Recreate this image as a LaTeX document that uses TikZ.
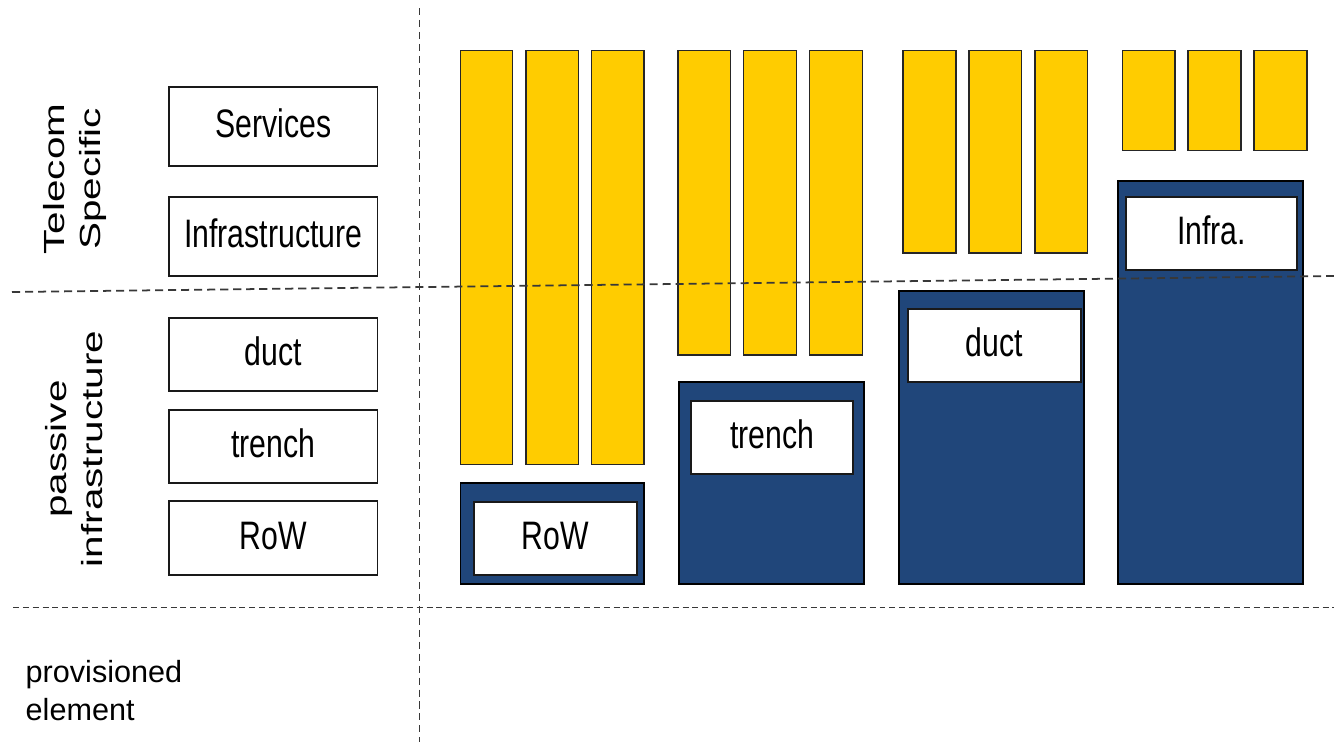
\documentclass[tikz,border=0pt]{standalone}
\usepackage{fontspec}
\usepackage{graphicx}
\setmainfont{Liberation Sans}
\usetikzlibrary{fit}
\definecolor{barfill}{HTML}{FFCC00}
\definecolor{basefill}{HTML}{20467A}
\definecolor{guidegray}{HTML}{383838}
\newcommand\narrowtxt[1]{\raisebox{-6.6pt}{\scalebox{0.76}[1]{#1}}}

\begin{document}
\begin{tikzpicture}[x=0.01cm,y=-0.01cm,
  yellowbar/.style={draw=black!85, line width=0.5pt, fill=barfill, inner sep=0pt},
  bluebase/.style={draw=black, line width=0.5pt, fill=basefill, inner sep=0pt},
  labelbox/.style={draw=black!90, line width=0.5pt, fill=white, inner sep=0pt,
    font=\fontsize{11.3}{13}\selectfont, text height=8.1pt, text depth=1.1pt},
  guideline/.style={draw=guidegray, line width=0.5pt},
  sidelabel/.style={rotate=90, inner sep=0pt, font=\fontsize{11.5}{14}\selectfont}
]
\path[use as bounding box, fill=white] (0,0) rectangle (1334,742);

% layer legend on the left
\node[labelbox, fit={(169,87)(377.5,166)}] (lservices) {\narrowtxt{Services}};
\node[labelbox, fit={(169,196.7)(377.5,276)}] (linfra) {\narrowtxt{Infrastructure}};
\node[labelbox, fit={(169,318)(377.5,391)}] (lduct) {\narrowtxt{duct}};
\node[labelbox, fit={(169,409.7)(377.5,483)}] (ltrench) {\narrowtxt{trench}};
\node[labelbox, fit={(169,501.3)(377.5,574.7)}] (lrow) {\narrowtxt{RoW}};

\node[sidelabel] (telecom) at (75.6,179)
  {\scalebox{1}[0.72]{\begin{tabular}{@{}c@{}}Telecom\\Specific\end{tabular}}};
\node[sidelabel] (passive) at (77.6,449)
  {\scalebox{1}[0.72]{\begin{tabular}{@{}c@{}}passive\\infrastructure\end{tabular}}};
\node[anchor=base west, inner sep=0pt, font=\fontsize{8.7}{10.8}\selectfont] (prov) at (25,682.7)
  {\begin{tabular}[t]{@{}l@{}}provisioned\\element\end{tabular}};

% blue foundations with their white tags
\node[bluebase, fit={(460.5,483)(644.3,584)}] (b1) {};
\node[bluebase, fit={(679.3,382.3)(864,584)}] (b2) {};
\node[bluebase, fit={(899,290.7)(1083.7,584)}] (b3) {};
\node[bluebase, fit={(1118.3,180.7)(1302.7,584)}] (b4) {};

\node[labelbox, fit={(474,501.7)(636.7,574.7)}] (w1) {\narrowtxt{RoW}};
\node[labelbox, fit={(690.7,400.7)(853.3,474)}] (w2) {\narrowtxt{trench}};
\node[labelbox, fit={(908,309)(1080.7,382)}] (w3) {\narrowtxt{duct}};
\node[labelbox, fit={(1126.3,196.7)(1297,269.7)}] (w4) {\narrowtxt{Infra.}};

% yellow columns standing on each foundation
\node[yellowbar, fit={(460.5,50.5)(512.5,464.5)}] (y11) {};
\node[yellowbar, fit={(526,50.5)(578.5,464.5)}] (y12) {};
\node[yellowbar, fit={(591.5,50.5)(644,464.5)}] (y13) {};

\node[yellowbar, fit={(678,50.5)(730.5,355)}] (y21) {};
\node[yellowbar, fit={(743.5,50.5)(796.5,355)}] (y22) {};
\node[yellowbar, fit={(809.5,50.5)(862.5,355)}] (y23) {};

\node[yellowbar, fit={(903,50.5)(956,253)}] (y31) {};
\node[yellowbar, fit={(969,50.5)(1021.5,253)}] (y32) {};
\node[yellowbar, fit={(1035,50.5)(1087.5,253)}] (y33) {};

\node[yellowbar, fit={(1122.5,50.5)(1175,150.5)}] (y41) {};
\node[yellowbar, fit={(1188,50.5)(1241,150.5)}] (y42) {};
\node[yellowbar, fit={(1254,50.5)(1307,150.5)}] (y43) {};

% dashed separators
\coordinate (vtop) at (419.5,8);
\coordinate (vbot) at (419.5,742);
\coordinate (upl) at (12,292);
\coordinate (upr) at (1334,276);
\coordinate (lowl) at (13,607.5);
\coordinate (lowr) at (1334,607.5);
\draw[guideline, dash pattern=on 2pt off 1.4pt] (vtop) -- (vbot);
\draw[guideline, dash pattern=on 2.3pt off 1.4pt] (upl) -- (upr);
\draw[guideline, dash pattern=on 1.7pt off 1.1pt] (lowl) -- (lowr);
\end{tikzpicture}
\end{document}
